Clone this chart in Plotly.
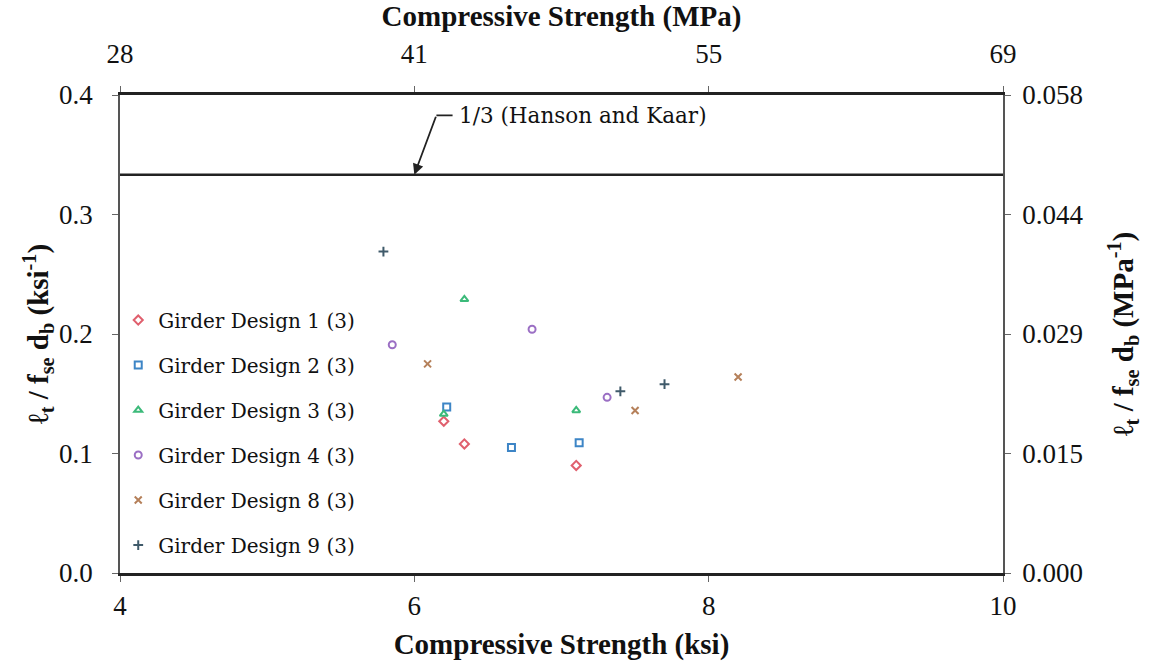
import plotly.graph_objects as go

# ---- data (ksi, ft/(fse*db) in 1/ksi) ----
gd1_x = [6.20, 6.34, 7.10]
gd1_y = [0.127, 0.108, 0.090]
gd2_x = [6.22, 6.66, 7.12]
gd2_y = [0.139, 0.105, 0.109]
gd3_x = [6.34, 6.20, 7.10]
gd3_y = [0.229, 0.133, 0.136]
gd4_x = [5.85, 6.80, 7.31]
gd4_y = [0.191, 0.204, 0.147]
gd8_x = [6.09, 7.50, 8.20]
gd8_y = [0.175, 0.136, 0.164]
gd9_x = [5.79, 7.40, 7.70]
gd9_y = [0.269, 0.152, 0.158]

series_names = ["Girder Design 1 (3)", "Girder Design 2 (3)", "Girder Design 3 (3)",
                "Girder Design 4 (3)", "Girder Design 8 (3)", "Girder Design 9 (3)"]

hk_x = [4, 10]
hk_value = 1 / 3

x_ticks = [4, 6, 8, 10]
x_top_labels = ["28", "41", "55", "69"]
y_ticks = [0.0, 0.1, 0.2, 0.3, 0.4]
y_right_labels = ["0.000", "0.015", "0.029", "0.044", "0.058"]

FONT = "Liberation Serif"
FONT2 = "DejaVu Serif"
symbols = ["diamond-open", "square-open", "triangle-up-open", "circle-open", "x-thin", "cross-thin"]
colors = ["#e0606e", "#3d85c6", "#3cba7a", "#9b6fc4", "#b5805a", "#3f5a6a"]
xs = [gd1_x, gd2_x, gd3_x, gd4_x, gd8_x, gd9_x]
ys = [gd1_y, gd2_y, gd3_y, gd4_y, gd8_y, gd9_y]

fig = go.Figure()
for i in range(6):
    fig.add_trace(go.Scatter(
        x=xs[i], y=ys[i], mode="markers", name=series_names[i],
        legendgroup=str(i),
        marker=dict(symbol=symbols[i], size=7, color=colors[i],
                    line=dict(width=2, color=colors[i])),
    ))

fig.add_trace(go.Scatter(x=hk_x, y=[hk_value, hk_value], mode="lines",
                         line=dict(color="#222222", width=2.5), showlegend=False,
                         hoverinfo="skip"))
fig.add_trace(go.Scatter(x=hk_x, y=[None, None], xaxis="x2", yaxis="y2",
                         showlegend=False, hoverinfo="skip"))

TICKFONT = dict(family=FONT, size=27, color="#111111")
TITLEFONT = dict(family=FONT, size=29, color="#111111")
axis_common = dict(showgrid=False, zeroline=False, linecolor="#555555", linewidth=1.5,
                   ticks="outside", ticklen=6, tickcolor="#666666",
                   tickfont=TICKFONT, automargin=False)

fig.update_layout(
    width=1151, height=667,
    margin=dict(l=120, r=148, t=95, b=94),
    plot_bgcolor="white", paper_bgcolor="white",
    font=dict(family=FONT, color="#111111"),
    xaxis=dict(range=[4, 10], tickvals=x_ticks, ticktext=[str(v) for v in x_ticks],
               title=dict(text="<b>Compressive Strength (ksi)</b>", font=TITLEFONT, standoff=14),
               ticklabelstandoff=1,
               **{**axis_common, "linewidth": 3, "linecolor": "#222222"}),
    xaxis2=dict(range=[4, 10], overlaying="x", side="top", tickvals=x_ticks, ticktext=x_top_labels,
                title=dict(text="<b>Compressive Strength (MPa)</b>", font=TITLEFONT, standoff=10),
                ticklabelstandoff=12,
                **{**axis_common, "linewidth": 3, "linecolor": "#222222"}),
    yaxis=dict(range=[0, 0.4], tickvals=y_ticks, tickformat=".1f",
               title=dict(text="<b>ℓ<sub>t</sub> / f<sub>se</sub> d<sub>b</sub> (ksi<sup>-1</sup>)</b>",
                          font=TITLEFONT, standoff=2),
               ticklabelstandoff=14,
               **axis_common),
    yaxis2=dict(range=[0, 0.4], overlaying="y", side="right", tickvals=y_ticks, ticktext=y_right_labels,
                anchor="x",
                title=dict(text="<b>ℓ<sub>t</sub> / f<sub>se</sub> d<sub>b</sub> (MPa<sup>-1</sup>)</b>",
                           font=TITLEFONT, standoff=30),
                ticklabelstandoff=6,
                **axis_common),
    legend=dict(x=-0.002, y=0.57, xanchor="left", yanchor="top", bgcolor="rgba(0,0,0,0)",
                font=dict(family=FONT2, size=20, color="#111111"), tracegroupgap=16,
                itemwidth=30),
    showlegend=True,
)

fig.add_annotation(x=6.0, y=hk_value, ax=6.15, ay=0.383, xref="x", yref="y", axref="x", ayref="y",
                   text="", showarrow=True, arrowhead=2, arrowsize=1.2, arrowwidth=1.8,
                   arrowcolor="#222222")
fig.add_annotation(x=6.15, y=0.383, ax=6.27, ay=0.383, xref="x", yref="y", axref="x", ayref="y",
                   text="", showarrow=True, arrowhead=0, arrowwidth=1.8, arrowcolor="#222222")
fig.add_annotation(x=6.29, y=0.383, xref="x", yref="y", text="1/3 (Hanson and Kaar)",
                   showarrow=False, xanchor="left", yanchor="middle",
                   font=dict(family=FONT2, size=21.5, color="#111111"))

fig.write_html("out.html")
